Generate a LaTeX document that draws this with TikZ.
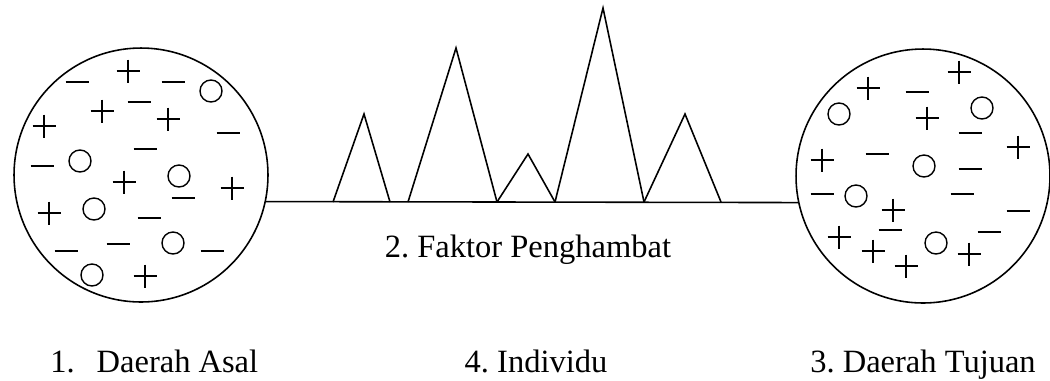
\documentclass[tikz,border=0pt]{standalone}
\usepackage{fontspec}
\setmainfont{Liberation Serif}
\newfontfamily\lblfont{Liberation Serif}
\frenchspacing
\usetikzlibrary{positioning}
\tikzset{
  region/.style={draw=black, line width=0.9pt, circle, minimum size=5.08cm, inner sep=0pt},
  barrier/.style={draw=black, line width=0.9pt, line join=miter},
  sym/.style={draw=black, line width=0.8pt},
  lbl/.style={font=\lblfont\fontsize{18.5}{22}\selectfont, inner sep=0pt, anchor=base}
}

\begin{document}
\begin{tikzpicture}[x=0.02cm, y=-0.02cm]
  \useasboundingbox (0,0) rectangle (1050,380);

  % the two regions
  \node[region] (origin) at (141,175) {};
  \node[region] (dest) at (923,176) {};

  % path between them with the obstacles
  \draw[barrier] (origin.-12) -- (dest.192);
  \foreach \a/\px/\py/\b in {333/364/114/390, 408/456/48/497, 497/528/154/555,
                             555/603/8/644, 644/685/114/721}
    \draw[barrier] (\a,202) -- (\px,\py) -- (\b,202);

  % charges, origin
  \foreach \px/\py in {128/71, 102/111, 168/119, 44/126, 124/182, 232/188, 49/213, 145/276}
    \draw[sym] (\px-11.5,\py) -- (\px+11.5,\py) (\px,\py-11.5) -- (\px,\py+11.5);
  \foreach \px/\py in {77/82, 173/82, 139/102, 228/133, 145/149, 42/166, 183/198,
                       149/218, 66/251, 118/244, 212/251}
    \draw[sym] (\px-11.5,\py) -- (\px+11.5,\py);
  \foreach \px/\py in {211/91, 80/161, 179/176, 94/209, 173/243, 92/275}
    \draw[sym] (\px,\py) circle[radius=11];

  % charges, destination
  \foreach \px/\py in {868/88, 959/72, 927/118, 1018/147, 822/160, 893/210, 839/237,
                       873/251, 906/266, 969/254}
    \draw[sym] (\px-11.5,\py) -- (\px+11.5,\py) (\px,\py-11.5) -- (\px,\py+11.5);
  \foreach \px/\py in {917/92, 970/133, 877/154, 970/169, 822/194, 962/194, 890/230,
                       1018/211, 989/232}
    \draw[sym] (\px-11.5,\py) -- (\px+11.5,\py);
  \foreach \px/\py in {839/114, 982/108, 924/166, 856/196, 936/243}
    \draw[sym] (\px,\py) circle[radius=11];

  % labels
  \node[lbl] (barrierlbl) at (528,257) {2. Faktor Penghambat};
  \node[lbl, anchor=base west] (originlbl) at (50,372) {1.\hspace{12.5pt}Daerah Asal};
  \node[lbl] (indiv) at (536,372) {4. Individu};
  \node[lbl] (destlbl) at (923,372) {3. Daerah Tujuan};
\end{tikzpicture}
\end{document}
